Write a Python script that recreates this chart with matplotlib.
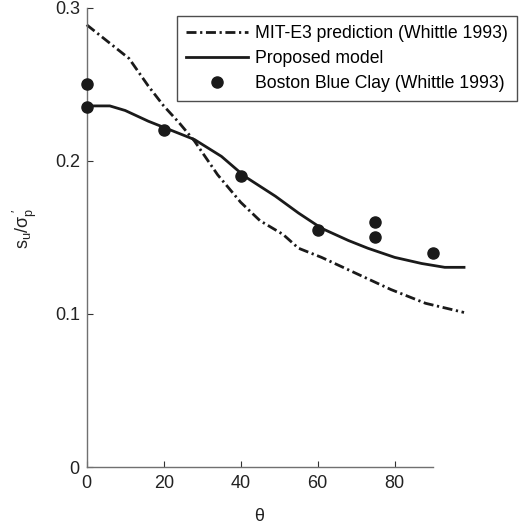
import matplotlib
matplotlib.use("Agg")
import matplotlib.pyplot as plt

plt.rcParams['font.family'] = ['Liberation Sans', 'DejaVu Sans']
plt.rcParams['mathtext.fontset'] = 'custom'
plt.rcParams['mathtext.rm'] = 'Liberation Sans'
plt.rcParams['mathtext.it'] = 'Liberation Sans:italic'

# MIT-E3 prediction (Whittle 1993)
mit_theta = [0, 5, 11, 16, 20, 24, 28, 34, 40, 45, 51, 55, 61, 67, 79, 88, 98]
mit_su = [0.289, 0.279, 0.267, 0.249, 0.236, 0.225, 0.213, 0.191, 0.173, 0.161,
          0.152, 0.143, 0.137, 0.130, 0.116, 0.107, 0.101]

# proposed model
model_theta = [0, 6, 10, 16, 20, 28, 35, 41, 49, 55, 61, 68, 73, 80, 87, 93, 98]
model_su = [0.236, 0.236, 0.233, 0.226, 0.222, 0.214, 0.203, 0.190, 0.177, 0.166,
            0.156, 0.148, 0.143, 0.137, 0.133, 0.1305, 0.1305]

# Boston Blue Clay test data
bbc_theta = [0, 0, 20, 40, 60, 75, 75, 90]
bbc_su = [0.25, 0.235, 0.22, 0.19, 0.155, 0.16, 0.15, 0.14]

xticks = [0, 20, 40, 60, 80]
yticks = [0, 0.1, 0.2, 0.3]
ytick_labels = ['0', '0.1', '0.2', '0.3']

fig = plt.figure(figsize=(5.30, 5.29), dpi=100)
ax = fig.add_axes([0.1636, 0.1172, 0.6538, 0.8677])

ink = '#1a1a1a'
ax.plot(mit_theta, mit_su, color=ink, lw=2.0, linestyle=(0, (3.6, 1.3, 0.8, 1.3)),
        clip_on=False, label='MIT-E3 prediction (Whittle 1993)')
ax.plot(model_theta, model_su, color=ink, lw=2.0, clip_on=False,
        label='Proposed model')
ax.plot(bbc_theta, bbc_su, 'o', color=ink, ms=8, clip_on=False, zorder=5,
        label='Boston Blue Clay (Whittle 1993)')

ax.set_xlim(0, 90)
ax.set_ylim(0, 0.3)
ax.set_xticks(xticks)
ax.set_yticks(yticks)
ax.set_yticklabels(ytick_labels)

for s in ['top', 'right']:
    ax.spines[s].set_visible(False)
for s in ['left', 'bottom']:
    ax.spines[s].set_color('#707070')
    ax.spines[s].set_linewidth(1.0)

ax.tick_params(direction='in', length=4, width=0.8, color='#333333',
               labelsize=13, labelcolor='#222222')
ax.tick_params(axis='y', pad=5)
ax.tick_params(axis='x', pad=6)

ax.set_xlabel(r'$\mathregular{\theta}$', fontsize=13, labelpad=11, color='#222222')
ax.set_ylabel(r"$\mathregular{s_u/\sigma_p^{\ \prime}}$", fontsize=13,
              color='#222222')
ax.yaxis.set_label_coords(-0.137, 0.52)

leg = ax.legend(loc='upper right', bbox_to_anchor=(516.7 / 530, 1 - 16 / 529),
                bbox_transform=fig.transFigure, borderaxespad=0, fontsize=12.7,
                frameon=True, fancybox=False, handlelength=3.5, handletextpad=0.4,
                labelspacing=0.45, borderpad=0.5)
leg.get_frame().set_edgecolor('#222222')
leg.get_frame().set_linewidth(1.0)

fig.savefig('out.png', dpi=100)
